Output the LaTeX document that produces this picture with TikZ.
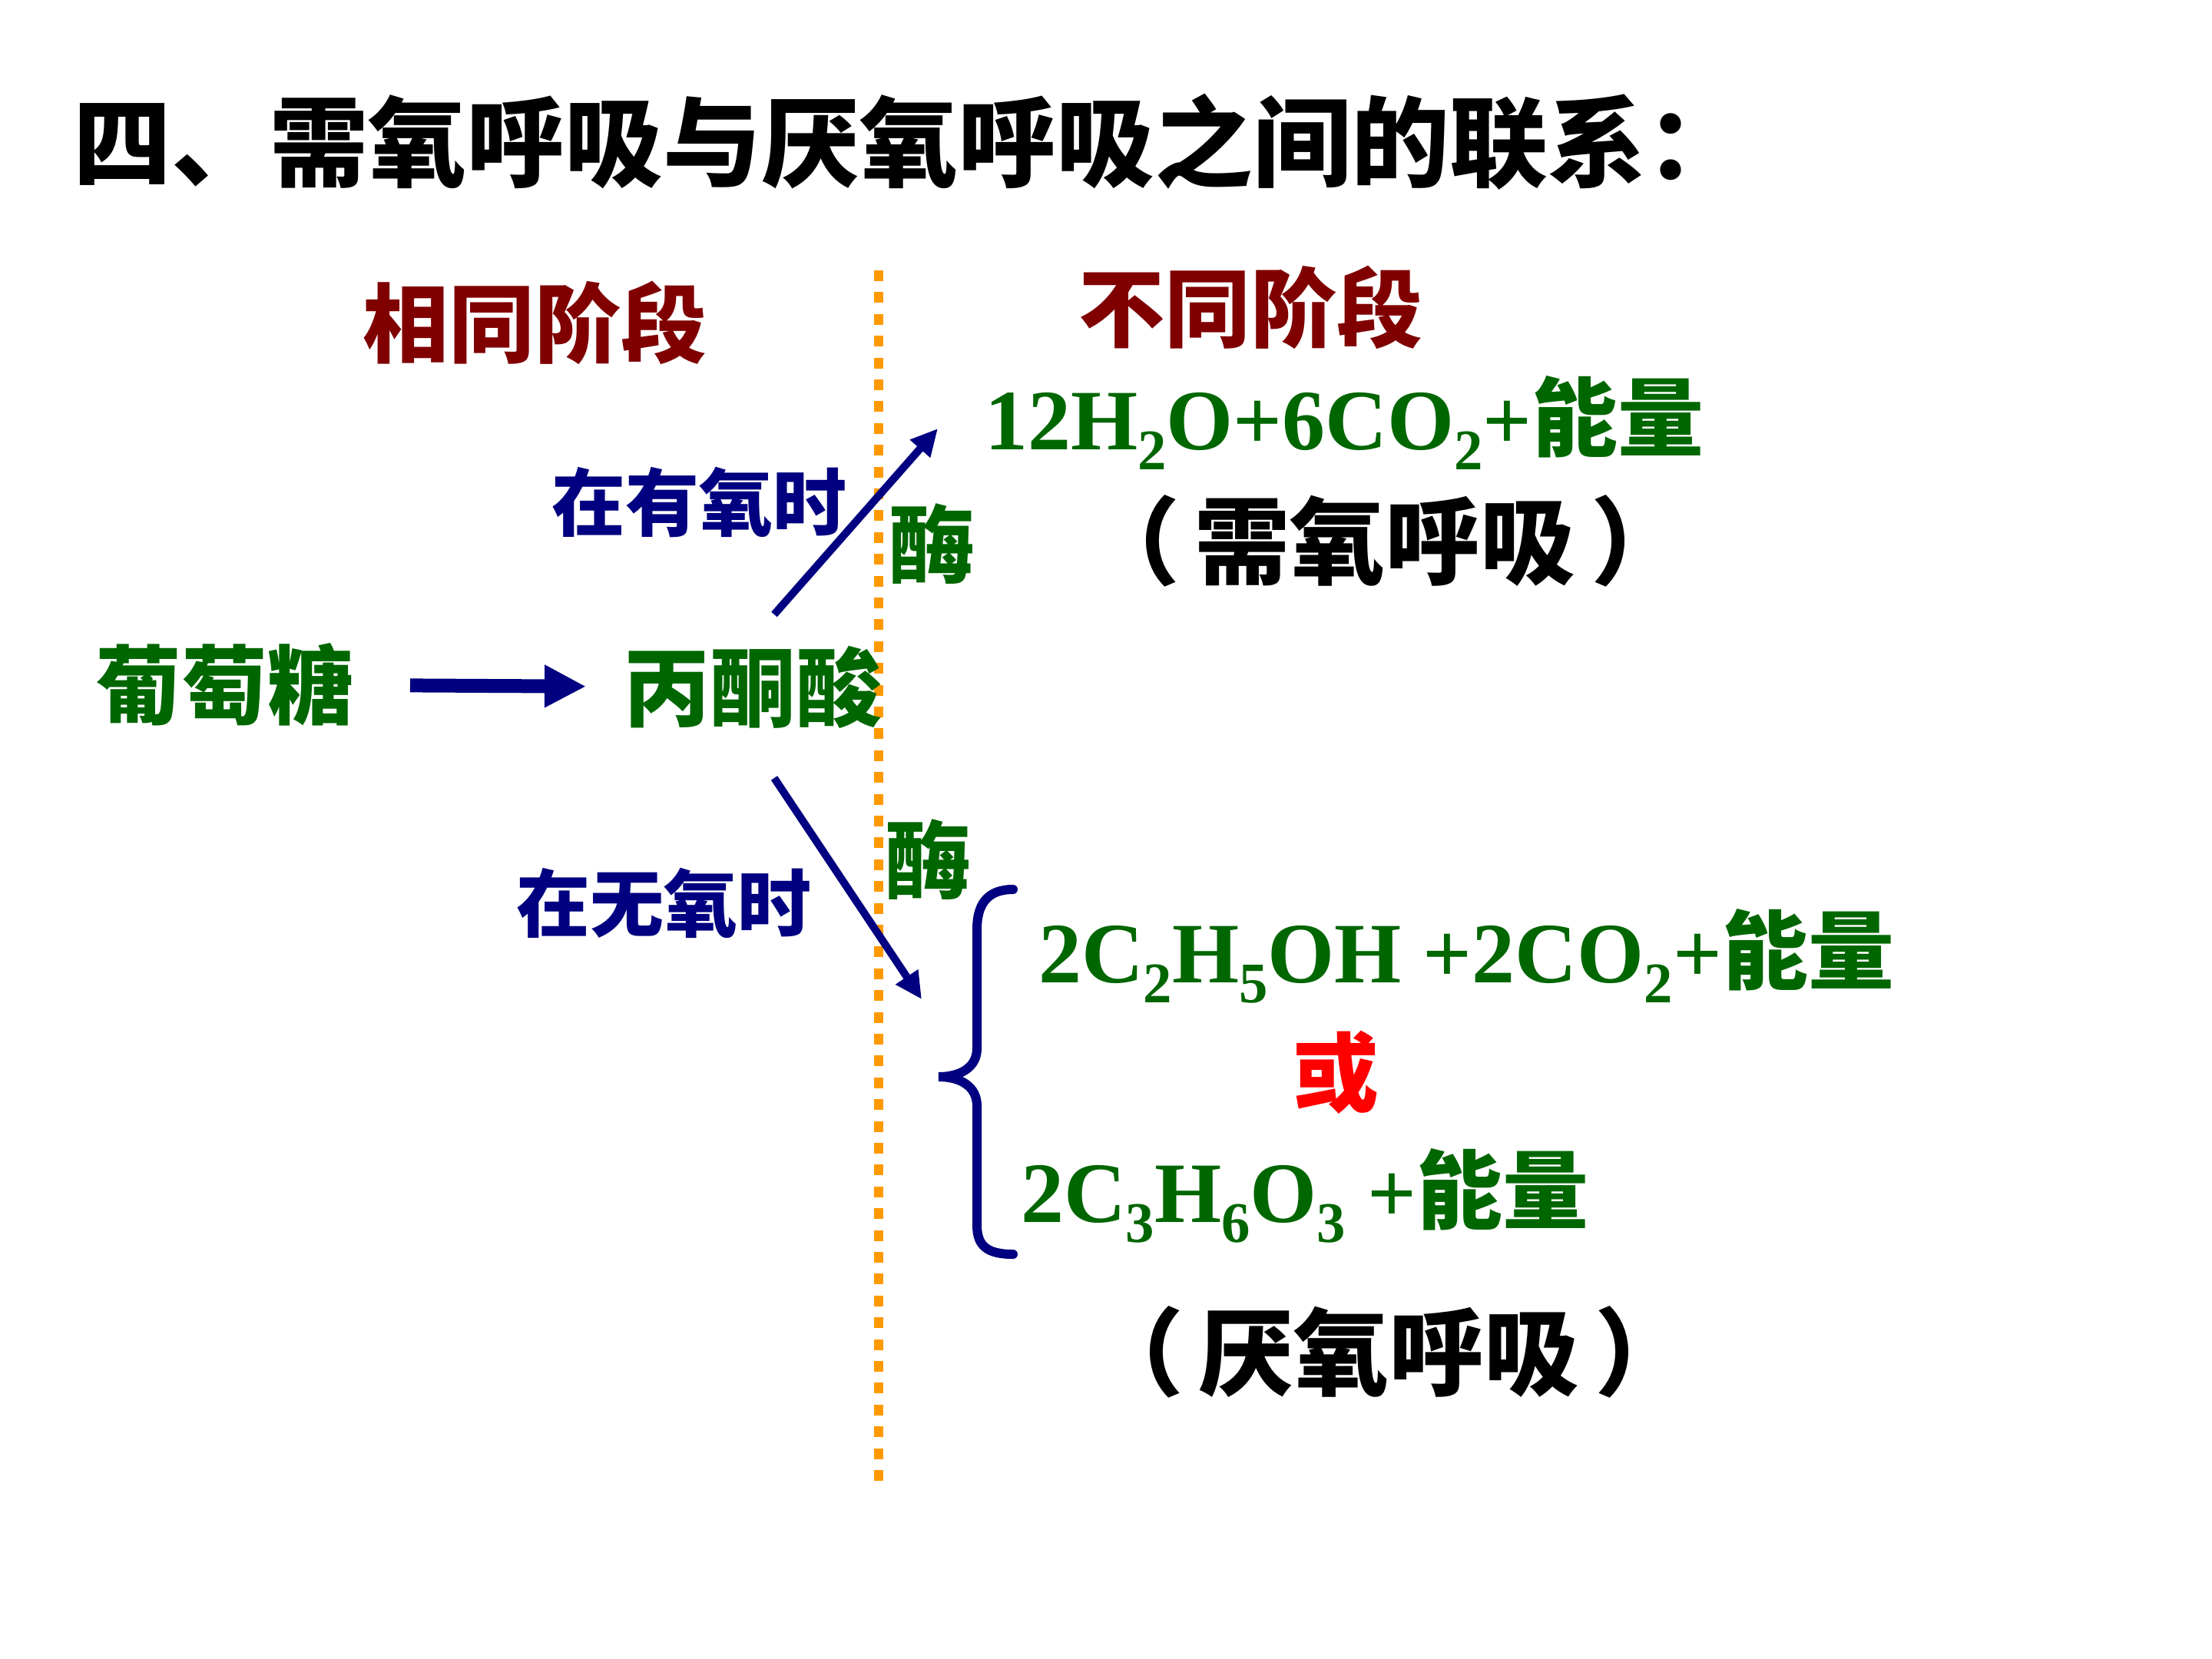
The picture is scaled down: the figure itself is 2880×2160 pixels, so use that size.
\documentclass[tikz,border=0pt]{standalone}
\usepackage{fontspec}
\usepackage{xcolor}
\usepackage{tikz}
\setmainfont{Liberation Serif}
\newfontfamily\cjk{Noto Sans CJK SC}
\usetikzlibrary{arrows.meta, positioning}
\definecolor{leaf}{RGB}{0,102,0}
\definecolor{ink}{RGB}{0,0,128}
\definecolor{wine}{RGB}{128,0,0}
\definecolor{amber}{RGB}{255,153,0}
\newcommand{\lowidx}[1]{\raisebox{-6.5pt}{\fontsize{18.7pt}{20pt}\selectfont #1}}

\begin{document}
\begin{tikzpicture}[x=0.25pt, y=-0.25pt,
    txt/.style={inner sep=0pt, outer sep=0pt},
    title/.style={txt, font=\cjk\bfseries\fontsize{32pt}{36pt}\selectfont},
    stage/.style={txt, text=wine, font=\cjk\bfseries\fontsize{28pt}{32pt}\selectfont},
    chem/.style={txt, text=leaf, font=\cjk\bfseries\fontsize{28pt}{32pt}\selectfont},
    cond/.style={txt, text=ink, font=\cjk\bfseries\fontsize{24pt}{28pt}\selectfont},
    label/.style={txt, font=\cjk\bfseries\fontsize{31pt}{34pt}\selectfont},
    formula/.style={txt, anchor=base west, text=leaf, font=\bfseries\fontsize{28pt}{32pt}\selectfont},
    fat/.style={draw=ink, line width=4.5pt, -{Triangle[length=13.5pt, width=13pt]}},
    ar/.style={draw=ink, line width=2.5pt, -{Triangle[length=8.75pt, width=8.25pt]}},
    divider/.style={draw=amber, line width=3pt, dash pattern=on 3.5pt off 3.6pt},
    curly/.style={draw=ink, line width=3pt, line cap=round}
]
\useasboundingbox (0,0) rectangle (2880,2160);

% heading
\node[title, anchor=west] (head) at (95,185) {四、需氧呼吸与厌氧呼吸之间的联系：};

% two stages
\node[stage] (same) at (696,420) {相同阶段};
\node[stage] (diff) at (1628,400) {不同阶段};
\draw[divider] (1144,352) -- (1144,1938);

% glucose -> pyruvate
\node[chem] (glc) at (292,891) {葡萄糖};
\node[chem] (pyr) at (980,895) {丙酮酸};
\draw[fat, shorten <=18.5pt, shorten >=12.25pt] (glc) -- (pyr);

% branches
\coordinate (up0) at (1008,800);
\coordinate (up1) at (1221,558);
\coordinate (dn0) at (1008,1013);
\coordinate (dn1) at (1200,1301);
\draw[ar] (up0) -- (up1);
\draw[ar] (dn0) -- (dn1);
\node[cond] (withO) at (910,654) {在有氧时};
\node[cond] (noO) at (864,1176) {在无氧时};
\node[chem] (enzA) at (1213,708) {酶};
\node[chem] (enzB) at (1208,1119) {酶};

% aerobic
\node[formula] (aer) at (1282,586) {12H\lowidx{2}O+6CO\lowidx{2}+{\cjk 能量}};
\node[label] (aerName) at (1804,704) {（\kern5pt 需氧呼吸\kern5pt ）};

% anaerobic
\draw[curly] (1319,1158) .. controls (1285,1158) and (1272,1178) .. (1272,1210)
    -- (1272,1365) .. controls (1272,1390) and (1250,1402) .. (1222,1402)
    .. controls (1250,1402) and (1272,1414) .. (1272,1440)
    -- (1272,1595) .. controls (1272,1622) and (1285,1633) .. (1319,1633);
\node[formula] (eth) at (1352,1279) {2C\lowidx{2}H\lowidx{5}OH +2CO\lowidx{2}+{\cjk 能量}};
\node[chem, text=red] (or) at (1739,1396) {或};
\node[formula] (lac) at (1329,1591) {2C\lowidx{3}H\lowidx{6}O\lowidx{3} +{\cjk 能量}};
\node[label] (anaName) at (1809,1760) {（\kern5pt 厌氧呼吸\kern5pt ）};
\end{tikzpicture}
\end{document}
